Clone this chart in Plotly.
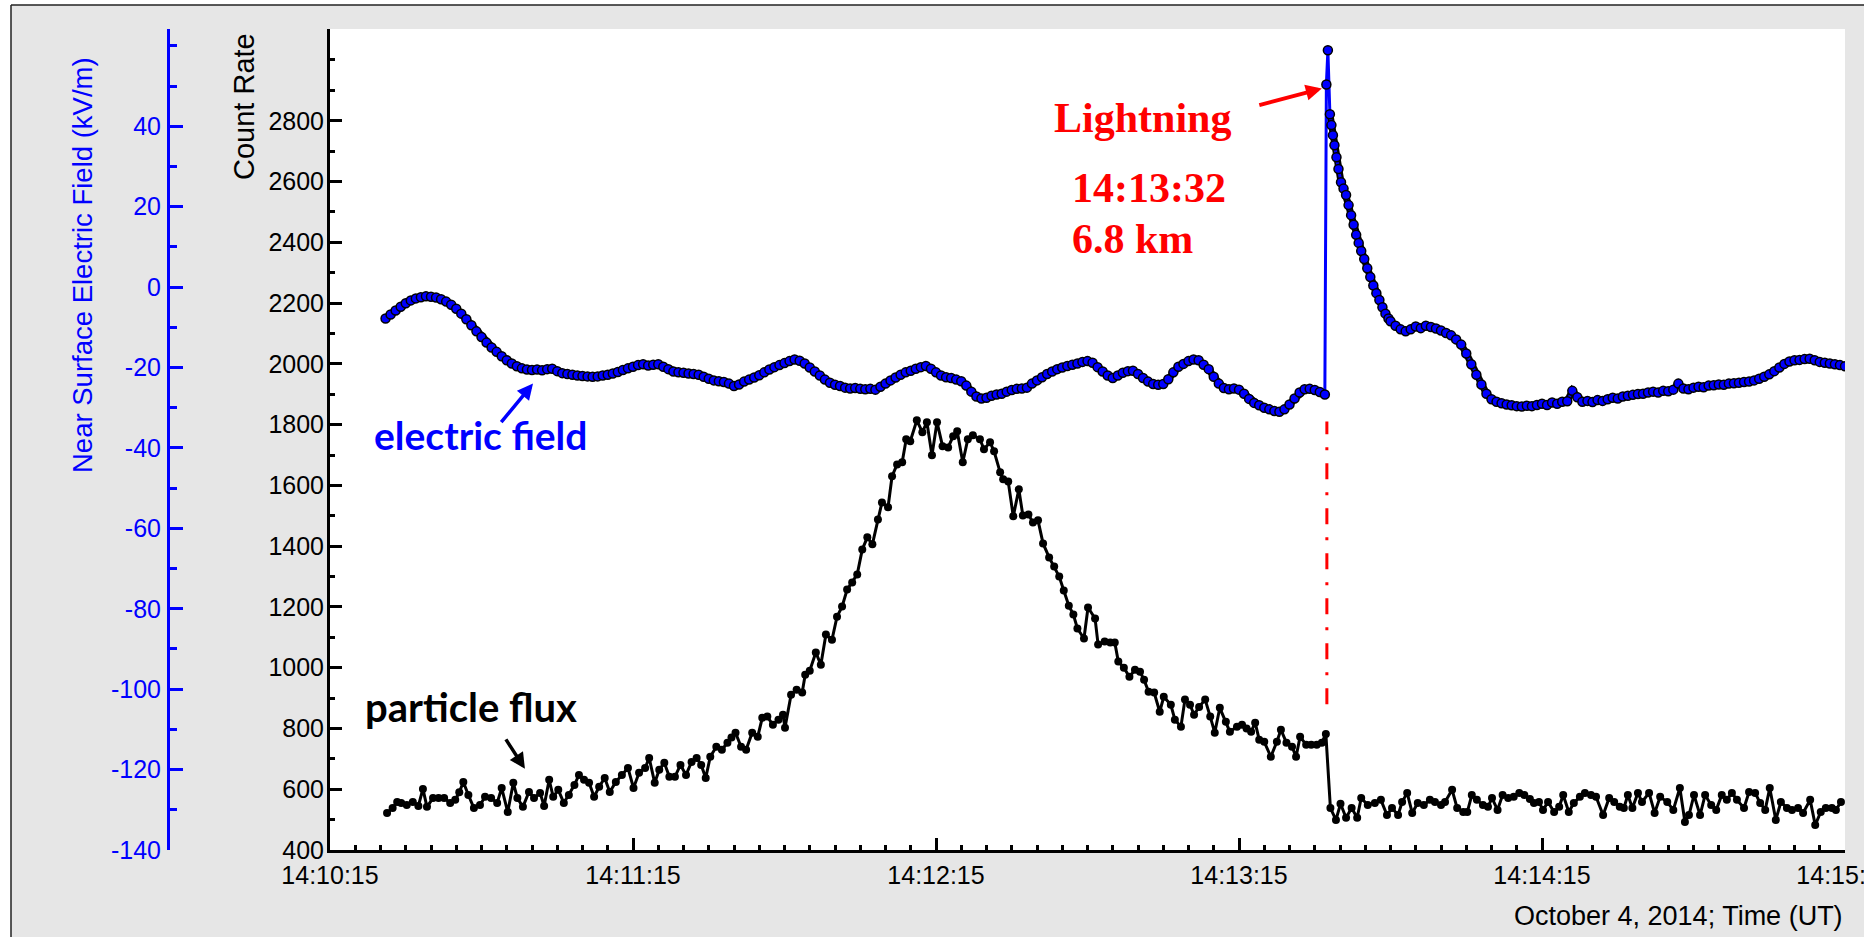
import plotly.graph_objects as go

# ---------------- data (time in seconds after 14:10:15 UT, October 4, 2014) ----------------
# particle flux: count rate readings
flux_t = [11.3, 12.4, 13.3, 14.1, 15.2, 16.4, 17.5, 18.4, 19.2, 20.4, 21.5, 22.6, 23.8, 24.8, 25.6, 26.4, 27.4, 28.5,
          29.7, 30.7, 31.9, 33.1, 34.0, 35.2, 36.3, 37.1, 38.2, 39.4, 40.4, 41.6, 42.4, 43.4, 44.2, 45.2, 46.3, 47.3,
          48.4, 49.3, 50.3, 51.3, 52.3, 53.3, 54.4, 55.4, 56.6, 57.8, 59.0, 60.1, 61.2, 62.4, 63.2, 64.3, 65.2, 66.2,
          67.2, 68.3, 69.4, 70.5, 71.6, 72.6, 73.5, 74.4, 75.3, 76.5, 77.6, 78.7, 79.5, 80.3, 81.4, 82.4, 83.6, 84.7,
          85.6, 86.6, 87.7, 88.8, 89.7, 90.1, 91.3, 92.4, 93.5, 94.1, 95.0, 96.2, 97.2, 98.2, 99.4, 100.4, 101.4,
          102.4, 103.4, 104.4, 105.4, 106.4, 107.4, 108.5, 109.3, 110.5, 111.3, 112.3, 113.3, 114.1, 114.9, 116.2,
          117.3, 118.2, 119.2, 120.2, 121.3, 122.4, 123.4, 124.2, 125.3, 126.3, 127.3, 128.7, 129.5, 130.7, 131.5,
          132.7, 133.3, 134.3, 135.3, 136.4, 137.2, 138.3, 139.2, 140.2, 141.2, 142.4, 143.4, 144.4, 145.3, 146.3,
          147.2, 148.0, 149.3, 150.1, 151.5, 152.1, 153.4, 154.5, 155.4, 156.1, 157.2, 158.3, 159.4, 160.4, 161.2,
          162.1, 163.2, 164.3, 165.1, 166.5, 167.3, 168.5, 169.3, 170.3, 171.1, 172.1, 173.3, 174.3, 175.2, 176.2,
          177.4, 178.2, 179.6, 180.6, 181.5, 182.4, 183.2, 184.0, 185.0, 186.3, 187.5, 188.3, 189.4, 190.5, 191.3,
          192.1, 193.3, 194.3, 195.4, 196.4, 197.2, 198.1, 199.2, 200.1, 201.2, 202.3, 203.4, 204.2, 205.5, 206.9,
          208.1, 209.3, 210.3, 211.5, 212.3, 213.3, 214.3, 215.4, 216.6, 217.8, 218.8, 220.0, 220.8, 222.2, 223.2,
          224.4, 225.2, 226.1, 227.1, 228.3, 229.3, 230.1, 231.2, 232.2, 233.3, 234.4, 235.5, 236.5, 237.6, 238.4,
          239.4, 240.2, 241.2, 242.4, 243.4, 244.2, 245.3, 246.3, 247.5, 248.5, 249.7, 250.7, 252.1, 253.3, 254.3,
          255.4, 256.2, 257.0, 257.9, 259.0, 259.8, 261.2, 262.3, 263.4, 264.8, 266.0, 267.3, 268.3, 269.1, 270.1,
          271.3, 272.3, 273.5, 274.5, 275.6, 276.6, 277.6, 278.6, 280.0, 281.0, 282.2, 283.2, 284.2, 285.1, 286.3,
          287.3, 288.5, 289.5, 290.7, 291.7, 293.1, 294.1, 295.2, 296.2, 297.4, 298.2, 299.2]
flux_counts = [522, 538, 558, 555, 548, 558, 545, 601, 542, 571, 571, 571, 555, 565, 590, 624, 581, 538,
               548, 575, 571, 555, 604, 525, 621, 571, 542, 591, 571, 588, 545, 631, 575, 598, 555, 581,
               614, 647, 631, 621, 575, 608, 637, 591, 624, 647, 670, 604, 654, 670, 703, 621, 664, 687,
               641, 641, 680, 647, 690, 703, 680, 637, 707, 740, 730, 753, 770, 786, 740, 730, 786, 773,
               835, 839, 812, 829, 845, 802, 911, 927, 918, 977, 990, 1050, 1010, 1109, 1092, 1168, 1201,
               1257, 1280, 1307, 1389, 1429, 1406, 1488, 1544, 1528, 1630, 1669, 1676, 1752, 1745, 1814,
               1775, 1808, 1699, 1808, 1729, 1725, 1762, 1778, 1676, 1752, 1765, 1752, 1719, 1742, 1712,
               1643, 1620, 1613, 1498, 1587, 1501, 1504, 1478, 1485, 1409, 1363, 1333, 1300, 1254, 1204,
               1175, 1129, 1096, 1198, 1162, 1076, 1086, 1083, 1083, 1020, 1000, 970, 993, 987, 960,
               921, 918, 855, 904, 878, 829, 806, 895, 878, 845, 871, 895, 839, 786, 868,
               822, 789, 806, 812, 800, 789, 819, 763, 756, 707, 756, 796, 753, 740, 707,
               773, 746, 746, 746, 753, 782, 538, 499, 552, 506, 538, 506, 571, 548, 555,
               565, 515, 538, 515, 558, 588, 522, 555, 548, 565, 558, 548, 558, 598, 538,
               525, 525, 581, 565, 548, 542, 571, 532, 581, 571, 575, 588, 581, 568, 555,
               558, 532, 558, 525, 542, 581, 525, 555, 575, 588, 581, 575, 515, 571, 558,
               542, 538, 581, 538, 588, 558, 588, 522, 575, 558, 532, 604, 492, 515, 581,
               515, 581, 548, 532, 581, 565, 588, 565, 538, 591, 588, 555, 532, 604, 499,
               558, 538, 532, 538, 522, 565, 482, 525, 538, 538, 532, 558]

# near-surface electric field (kV/m)
field_t = ([float(s) for s in range(11, 198)] +
           [197.3, 197.6, 198.0, 198.3, 198.6, 198.9, 199.3, 199.7, 200.2, 200.7, 201.2, 201.7, 202.2,
            202.7, 203.2, 203.7, 204.2, 204.8, 205.4, 206.0, 206.6, 207.2, 207.8, 208.4, 209.0, 209.6] +
           [float(s) for s in range(210, 301)])
field_kvm = [-7.8, -6.8, -5.8, -4.9, -4.0, -3.3, -2.8, -2.5, -2.3, -2.4,
             -2.6, -3.0, -3.6, -4.4, -5.4, -6.6, -8.0, -9.5, -11.0, -12.4,
             -13.8, -15.0, -16.1, -17.2, -18.2, -19.0, -19.7, -20.2, -20.5, -20.6,
             -20.5, -20.7, -20.4, -20.3, -20.9, -21.4, -21.6, -21.8, -22.0, -22.1,
             -22.2, -22.3, -22.2, -22.0, -21.8, -21.5, -21.1, -20.6, -20.2, -19.8,
             -19.4, -19.2, -19.5, -19.3, -19.2, -19.8, -20.4, -21.0, -21.2, -21.3,
             -21.5, -21.6, -21.8, -22.3, -22.8, -23.2, -23.4, -23.6, -24.0, -24.6,
             -24.2, -23.5, -23.0, -22.5, -21.9, -21.2, -20.5, -19.9, -19.4, -18.9,
             -18.4, -18.0, -18.3, -19.0, -20.0, -21.0, -22.0, -23.0, -23.8, -24.3,
             -24.6, -25.0, -25.2, -25.1, -25.3, -25.4, -25.3, -25.5, -24.8, -24.0,
             -23.2, -22.5, -21.8, -21.2, -20.8, -20.3, -19.9, -19.6, -20.3, -21.2,
             -22.0, -22.4, -22.6, -23.0, -23.4, -24.5, -26.0, -27.2, -27.7, -27.5,
             -27.0, -26.7, -26.5, -26.0, -25.6, -25.3, -25.2, -25.0, -24.0, -23.2,
             -22.4, -21.6, -21.0, -20.4, -20.0, -19.6, -19.3, -19.0, -18.6, -18.4,
             -18.8, -19.9, -21.0, -22.0, -22.6, -22.0, -21.3, -20.9, -20.8, -21.6,
             -22.6, -23.5, -24.1, -24.3, -24.1, -22.9, -21.2, -19.8, -19.1, -18.4,
             -18.0, -18.2, -19.3, -20.4, -22.3, -24.0, -25.1, -25.4, -25.2, -25.5,
             -26.5, -27.8, -28.8, -29.4, -30.0, -30.4, -30.8, -31.0, -30.4, -29.2,
             -27.7, -26.2, -25.4, -25.3, -25.6, -26.1, -26.7,
             # lightning jump and recovery
             50.4, 58.9, 43.0, 40.3, 37.8, 35.3, 32.3, 29.4, 26.1, 24.5, 22.9, 20.4, 17.9,
             15.5, 13.0, 11.0, 9.0, 7.0, 4.7, 2.5, 0.4, -1.5, -3.2, -5.0, -6.6, -7.8,
             -8.5, -9.6, -10.5, -11.0, -10.5, -9.8, -10.2, -9.6, -9.9, -10.3,
             -10.8, -11.4, -12.0, -13.0, -14.3, -16.5, -19.2, -21.8, -24.2, -26.5,
             -27.9, -28.5, -28.9, -29.2, -29.4, -29.6, -29.7, -29.5, -29.6, -29.3,
             -29.0, -29.3, -28.7, -29.0, -28.5, -28.4, -25.8, -27.4, -28.5, -28.3,
             -28.6, -28.1, -28.3, -27.9, -27.5, -27.7, -27.2, -27.0, -26.8, -26.6,
             -26.5, -26.2, -26.0, -26.2, -25.8, -25.9, -25.5, -24.0, -25.2, -25.4,
             -25.0, -24.8, -24.9, -24.5, -24.4, -24.2, -24.3, -24.0, -23.9, -23.8,
             -23.6, -23.5, -23.2, -22.8, -22.3, -21.7, -20.9, -20.0, -19.1, -18.5,
             -18.2, -18.1, -17.9, -17.8, -18.2, -18.6, -18.8, -19.0, -19.2, -19.4, -19.7]

# x-axis ticks
tick_seconds = [0, 60, 120, 180, 240, 300]
tick_labels = ["14:10:15", "14:11:15", "14:12:15", "14:13:15", "14:14:15", "14:15:15"]
count_ticks = [400, 600, 800, 1000, 1200, 1400, 1600, 1800, 2000, 2200, 2400, 2600, 2800, 3000]
field_ticks = [-140, -120, -100, -80, -60, -40, -20, 0, 20, 40, 60]

lightning_t = 197.4          # 14:13:32
lightning_label = ["Lightning", "14:13:32", "6.8 km"]

# ---------------- layout geometry (pixels) ----------------
FIG_W, FIG_H = 1864, 937
L, R, T, B = 168, 1845, 29, 850
PW, PH = R - L, B - T
AX0 = 330  # x position of count-rate axis


def px(X):
    return (X - L) / PW


def py(Y):
    return (B - Y) / PH


BLUE = "#0000ff"
RED = "#ff0000"
GREY = "#e6e6e6"
SANS = "Liberation Sans, Arial, sans-serif"
SERIF = "Liberation Serif, Times New Roman, serif"
BOLD_SANS = "Lato, Carlito, Calibri, sans-serif"

fig = go.Figure()

# dark band under the field markers (broken at the lightning jump so the jump stays blue)
ia = field_t.index(197.3)
ib = field_t.index(198.0)
under_t = field_t[:ia] + [None] + field_t[ib:]
under_v = field_kvm[:ia] + [None] + field_kvm[ib:]
fig.add_trace(go.Scatter(
    x=under_t, y=under_v, yaxis="y2", mode="lines", connectgaps=False,
    line=dict(color="black", width=7),
    showlegend=False, hoverinfo="skip"))

fig.add_trace(go.Scatter(
    x=field_t, y=field_kvm, yaxis="y2", mode="lines+markers",
    line=dict(color=BLUE, width=3),
    marker=dict(color=BLUE, size=9, line=dict(color="black", width=1.5)),
    showlegend=False, hoverinfo="skip"))

fig.add_trace(go.Scatter(
    x=flux_t, y=flux_counts, yaxis="y", mode="lines+markers",
    line=dict(color="black", width=3),
    marker=dict(color="black", size=8),
    showlegend=False, hoverinfo="skip"))

x_tickvals = list(range(0, 301, 15))
x_ticktext = [tick_labels[tick_seconds.index(v)] if v in tick_seconds else "" for v in x_tickvals]

fig.update_layout(
    width=FIG_W, height=FIG_H,
    margin=dict(l=L, r=FIG_W - R, t=T, b=FIG_H - B, pad=0, autoexpand=False),
    paper_bgcolor=GREY, plot_bgcolor="white",
    showlegend=False,
    xaxis=dict(
        domain=[px(AX0), 1], range=[0, 300], showgrid=False, zeroline=False, automargin=False,
        showline=True, linecolor="black", linewidth=3,
        tickmode="array", tickvals=x_tickvals, ticktext=x_ticktext,
        ticks="inside", ticklen=12, tickwidth=2.5, tickcolor="black",
        minor=dict(tickmode="array", tickvals=list(range(0, 301, 5)), ticks="inside",
                   ticklen=5, tickwidth=2.5, tickcolor="black"),
        tickfont=dict(family=SANS, size=25, color="black"),
        ticklabelstandoff=1, ticklabeloverflow="allow",
    ),
    yaxis=dict(
        range=[400, 3102], anchor="x", showgrid=False, zeroline=False, automargin=False,
        showline=True, linecolor="black", linewidth=3,
        tickmode="array", tickvals=count_ticks,
        ticktext=[str(v) if v != 3000 else "" for v in count_ticks],
        ticks="inside", ticklen=12, tickwidth=3, tickcolor="black",
        minor=dict(tickmode="array", tickvals=list(range(400, 3101, 100)), ticks="inside",
                   ticklen=5, tickwidth=3, tickcolor="black"),
        tickfont=dict(family=SANS, size=25, color="black"),
        ticklabelstandoff=-2,
    ),
    yaxis2=dict(
        range=[-140, 64.2], overlaying="y", anchor="free", position=0, side="left",
        showgrid=False, zeroline=False, automargin=False,
        showline=True, linecolor=BLUE, linewidth=3,
        tickmode="array", tickvals=field_ticks,
        ticktext=[str(v) if v != 60 else "" for v in field_ticks],
        ticks="inside", ticklen=13, tickwidth=3, tickcolor=BLUE,
        minor=dict(tickmode="array", tickvals=list(range(-140, 61, 10)), ticks="inside",
                   ticklen=7, tickwidth=3, tickcolor=BLUE),
        tickfont=dict(family=SANS, size=25, color=BLUE),
        ticklabelstandoff=1,
    ),
)

# lightning time marker (dash-dot)
fig.add_shape(type="line", xref="x", yref="y", x0=lightning_t, x1=lightning_t, y0=880, y1=1810,
              line=dict(color=RED, width=3, dash="16px,13px,3px,13px"), layer="above")

# outer frame: white margin strips and black border
fig.add_shape(type="rect", xref="paper", yref="paper", x0=px(-5), x1=px(11), y0=py(960), y1=py(-5),
              fillcolor="white", line=dict(width=0), layer="above")
fig.add_shape(type="rect", xref="paper", yref="paper", x0=px(-5), x1=px(1880), y0=py(5), y1=py(-5),
              fillcolor="white", line=dict(width=0), layer="above")
fig.add_shape(type="line", xref="paper", yref="paper", x0=px(11), x1=px(11), y0=py(960), y1=py(5),
              line=dict(color="#222222", width=1.5), layer="above")
fig.add_shape(type="line", xref="paper", yref="paper", x0=px(11), x1=px(1880), y0=py(5), y1=py(5),
              line=dict(color="#222222", width=1.5), layer="above")

ann = []
# axis titles
ann.append(dict(text="Near Surface Electric Field (kV/m)", x=px(82), y=py(265), xref="paper", yref="paper",
                textangle=-90, showarrow=False, xanchor="center", yanchor="middle",
                font=dict(family=SANS, size=27.5, color=BLUE)))
ann.append(dict(text="Count Rate", x=px(244), y=py(107), xref="paper", yref="paper",
                textangle=-90, showarrow=False, xanchor="center", yanchor="middle",
                font=dict(family=SANS, size=29, color="black")))
ann.append(dict(text="October 4, 2014; Time (UT)", x=px(1845), y=py(916), xref="paper", yref="paper",
                showarrow=False, xanchor="right", yanchor="middle",
                font=dict(family=SANS, size=27, color="black")))
# curve labels
ann.append(dict(text="<b>electric field</b>", x=px(480), y=py(435), xref="paper", yref="paper",
                showarrow=False, xanchor="center", yanchor="middle",
                font=dict(family=BOLD_SANS, size=39, color=BLUE)))
ann.append(dict(text="<b>particle flux</b>", x=px(471), y=py(707), xref="paper", yref="paper",
                showarrow=False, xanchor="center", yanchor="middle",
                font=dict(family=BOLD_SANS, size=40, color="black")))
# lightning text
ann.append(dict(text="<b>%s</b>" % lightning_label[0], x=px(1052), y=py(118), xref="paper", yref="paper",
                showarrow=False, xanchor="left", yanchor="middle",
                font=dict(family=SERIF, size=42, color=RED)))
ann.append(dict(text="<b>%s</b>" % lightning_label[1], x=px(1070), y=py(188), xref="paper", yref="paper",
                showarrow=False, xanchor="left", yanchor="middle",
                font=dict(family=SERIF, size=42, color=RED)))
ann.append(dict(text="<b>%s</b>" % lightning_label[2], x=px(1070), y=py(239), xref="paper", yref="paper",
                showarrow=False, xanchor="left", yanchor="middle",
                font=dict(family=SERIF, size=42, color=RED)))
# arrows
ann.append(dict(text="", x=196.4, y=49.4, xref="x", yref="y2", ax=-64, ay=17, axref="pixel", ayref="pixel",
                showarrow=True, arrowhead=2, arrowsize=0.8, arrowwidth=4, arrowcolor=RED, standoff=0))
ann.append(dict(text="", x=40.2, y=-24.0, xref="x", yref="y2", ax=-33, ay=40, axref="pixel", ayref="pixel",
                showarrow=True, arrowhead=2, arrowsize=0.9, arrowwidth=3.5, arrowcolor=BLUE, standoff=0))
ann.append(dict(text="", x=38.6, y=667, xref="x", yref="y", ax=-20, ay=-31, axref="pixel", ayref="pixel",
                showarrow=True, arrowhead=2, arrowsize=0.9, arrowwidth=3.5, arrowcolor="black", standoff=0))
fig.update_layout(annotations=ann)

fig.write_html("out.html")
